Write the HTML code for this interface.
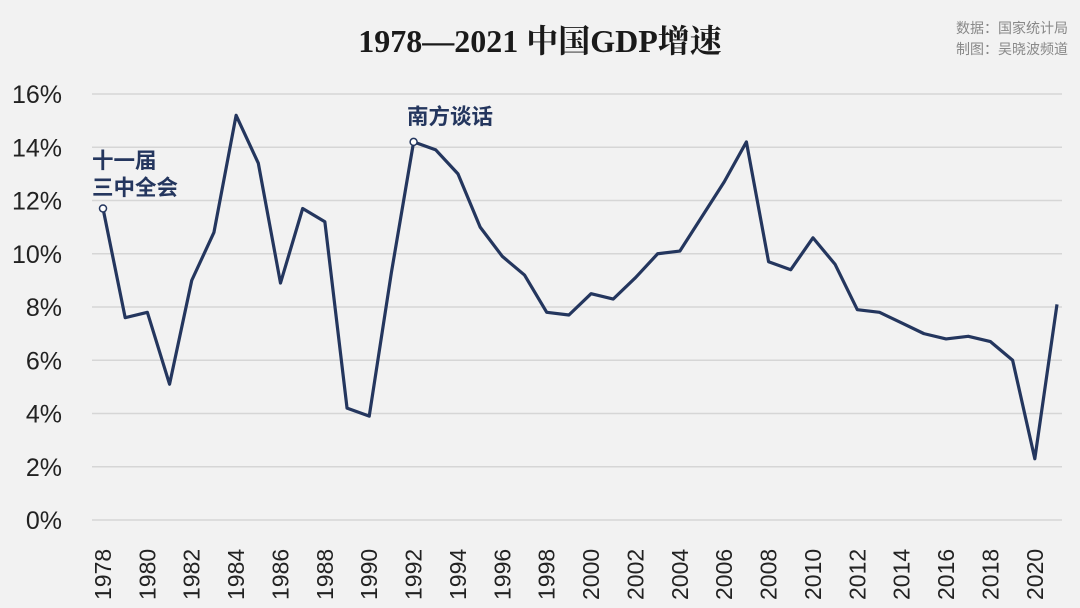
<!DOCTYPE html>
<html><head><meta charset="utf-8"><style>
body{margin:0;background:#f2f2f2;}
svg{display:block}
</style></head><body>
<svg width="1080" height="608" viewBox="0 0 1080 608">
<rect width="1080" height="608" fill="#f2f2f2"/>
<text x="540" y="52" text-anchor="middle" font-family="'Liberation Serif','Noto Serif CJK SC',serif" font-weight="bold" font-size="32" fill="#1a1a1a">1978—2021 中国GDP增速</text>
<text x="1068" y="33" text-anchor="end" font-family="'Liberation Sans','Noto Sans CJK SC',sans-serif" font-size="14" fill="#888">数据：国家统计局</text>
<text x="1068" y="54" text-anchor="end" font-family="'Liberation Sans','Noto Sans CJK SC',sans-serif" font-size="14" fill="#888">制图：吴晓波频道</text>
<g id="grid"></g><g id="yl"></g><g id="xl"></g>
<path id="line" fill="none" stroke="#24365e" stroke-width="3.2" stroke-linejoin="round"/>
<g id="ann"></g>
</svg>
<script>
const years=[1978,1979,1980,1981,1982,1983,1984,1985,1986,1987,1988,1989,1990,1991,1992,1993,1994,1995,1996,1997,1998,1999,2000,2001,2002,2003,2004,2005,2006,2007,2008,2009,2010,2011,2012,2013,2014,2015,2016,2017,2018,2019,2020,2021];
const growth=[11.7,7.6,7.8,5.1,9.0,10.8,15.2,13.4,8.9,11.7,11.2,4.2,3.9,9.3,14.2,13.9,13.0,11.0,9.9,9.2,7.8,7.7,8.5,8.3,9.1,10.0,10.1,11.4,12.7,14.2,9.7,9.4,10.6,9.6,7.9,7.8,7.4,7.0,6.8,6.9,6.7,6.0,2.3,8.1];
const yTicks=[0,2,4,6,8,10,12,14,16];
const NS="http://www.w3.org/2000/svg";
const x=y=>103+(y-1978)*(1057-103)/(2021-1978);
const yy=v=>520-v*(520-94)/16;
function mk(t,a,p){const e=document.createElementNS(NS,t);for(const k in a)e.setAttribute(k,a[k]);p.appendChild(e);return e;}
const grid=document.getElementById('grid'),yl=document.getElementById('yl'),xl=document.getElementById('xl');
yTicks.forEach(v=>{
 const l=mk('line',{x1:92,x2:1062,y1:yy(v),y2:yy(v),stroke:'#d6d6d6','stroke-width':1.5},grid);
 
 
 const t=mk('text',{x:62,y:yy(v)+9,'text-anchor':'end','font-family':'Liberation Sans,sans-serif','font-size':25,fill:'#222'},yl);
 t.textContent=v+'%';
 
 
});
years.forEach(yr=>{
 if(yr%2)return;
 const t=mk('text',{transform:`translate(${x(yr)+8},600) rotate(-90)`,'font-family':'Liberation Sans,sans-serif','font-size':23,fill:'#222'},xl);
 t.textContent=yr;
 
 
});
document.getElementById('line').setAttribute('d',years.map((yr,i)=>(i?'L':'M')+x(yr)+','+yy(growth[i])).join(''));
const ann=document.getElementById('ann');
[[0,['十一届','三中全会'],92,168],[14,['南方谈话'],407,124]].forEach(([i,lines,tx,ty])=>{
 const c=mk('circle',{cx:x(years[i]),cy:yy(growth[i]),r:3.5,fill:'#fff',stroke:'#24365e','stroke-width':1.5},ann);
 
 
 lines.forEach((s,j)=>{
  const t=mk('text',{x:tx,y:ty+j*27,'font-family':'Liberation Sans,Noto Sans CJK SC,sans-serif','font-weight':'bold','font-size':21.5,fill:'#24365e'},ann);
  t.textContent=s;
  
  
 });
});
</script>
</body></html>
